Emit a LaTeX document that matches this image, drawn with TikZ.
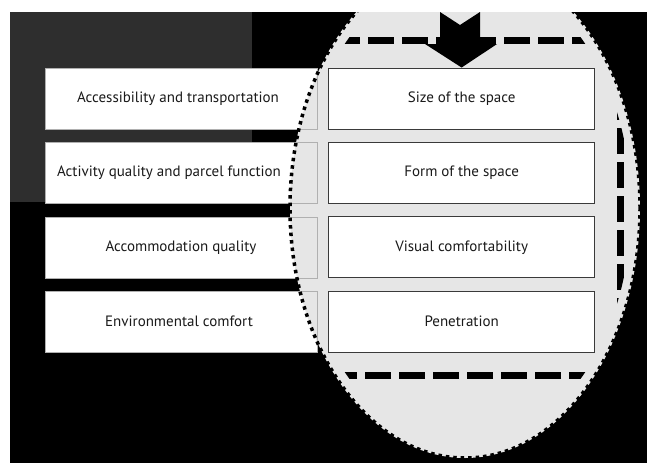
\documentclass[tikz,border=0pt]{standalone}
\usepackage{fontspec}
\setmainfont{PT Sans}
\usetikzlibrary{positioning}
\definecolor{ovalgray}{HTML}{E6E6E6}
\definecolor{markgray}{HTML}{2E2E2E}
\definecolor{rimgray}{HTML}{B0B0B0}
\definecolor{edgegray}{HTML}{3A3A3A}
\definecolor{inkgray}{HTML}{1A1A1A}
\begin{document}
\begin{tikzpicture}[x=1pt,y=-1pt]
    \tikzstyle{every node}+=[inner sep=0pt,font=\fontsize{15}{17}\selectfont,text=inkgray]
    \tikzstyle{factor}=[draw=rimgray,fill=white,minimum width=272pt,minimum height=61pt,
        path picture={\fill[ovalgray] (ovalc) ellipse [x radius=175pt,y radius=250pt];}]
    \tikzstyle{quality}=[draw=edgegray,line width=0.9pt,fill=white,minimum width=266pt,minimum height=61pt]
    \tikzstyle{frame}=[line width=7pt,dash pattern=on 26pt off 8pt]
    \useasboundingbox (0,0) rectangle (647,463);
    \fill[white] (0,0) rectangle (647,463);
    \fill[black] (10,12) rectangle (647,463);
    \fill[markgray] (10,12) rectangle (252,202);
    \coordinate (ovalc) at (465,208);
    \begin{scope}
    \clip (10,12) rectangle (647,463);
    \fill[ovalgray] (ovalc) ellipse [x radius=175pt,y radius=250pt];
    \clip (ovalc) ellipse [x radius=166pt,y radius=238pt];
    \draw[frame] (300,40) -- (620,40) -- (620,375) -- (300,375);
    \end{scope}
    \node[factor] (access) at (181,98.5) {\hspace*{-6pt}Accessibility and transportation};
    \node[factor,below=13pt of access] (activity) {\hspace*{-24pt}Activity quality and parcel function};
    \node[factor,below=13pt of activity] (accomm) {Accommodation quality};
    \node[factor,below=13pt of accomm] (envcomf) {\hspace*{-4pt}Environmental comfort};
    \begin{scope}
    \clip (10,12) rectangle (647,463);
    \draw[line width=3.5pt,dash pattern=on 3.5pt off 4pt] (ovalc) ellipse [x radius=175pt,y radius=250pt];
    \end{scope}
    \node[quality,right=11pt of access] (size) {Size of the space};
    \node[quality,right=11pt of activity] (form) {Form of the space};
    \node[quality,right=11pt of accomm] (visual) {Visual comfortability};
    \node[quality,right=11pt of envcomf] (penet) {Penetration};
    \fill[black] (440,12) -- (460,25) -- (480,12) -- (480,44) -- (497,44) -- (size.north) -- (425,44) -- (440,44) -- cycle;
\end{tikzpicture}
\end{document}
